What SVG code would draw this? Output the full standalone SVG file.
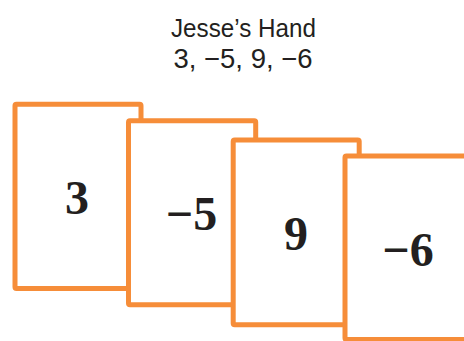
<svg xmlns="http://www.w3.org/2000/svg" width="464" height="341" viewBox="0 0 464 341">
<style>
.card{fill:#ffffff;stroke:#F68D39;stroke-width:5;stroke-linejoin:round}
.num{font-family:"Liberation Serif","DejaVu Serif",serif;font-weight:bold;font-size:48px;fill:#231F20;text-anchor:middle}
.title{font-family:"Liberation Sans",Arial,sans-serif;fill:#231F20}
</style>
<rect width="464" height="341" fill="#ffffff"/>
<g id="title">
<text class="title" x="171" y="36.5" font-size="25" textLength="145" lengthAdjust="spacingAndGlyphs">Jesse’s Hand</text>
<text class="title" x="173.5" y="68.3" font-size="28" textLength="139" lengthAdjust="spacingAndGlyphs">3, −5, 9, −6</text>
</g>
<g id="card1">
<rect class="card" x="15" y="104.3" width="126" height="184.2" rx="1.5"/>
<text class="num" x="77" y="214">3</text>
</g>
<g id="card2">
<rect class="card" x="128.5" y="120.7" width="127.2" height="184.1" rx="1.5"/>
<text class="num" x="191.5" y="230">−5</text>
</g>
<g id="card3">
<rect class="card" x="233.2" y="140" width="126" height="184.8" rx="1.5"/>
<text class="num" x="296" y="250">9</text>
</g>
<g id="card4">
<rect class="card" x="345" y="156" width="127" height="183.5" rx="1.5"/>
<text class="num" x="408" y="266">−6</text>
</g>
<g id="connectors"></g>
</svg>
